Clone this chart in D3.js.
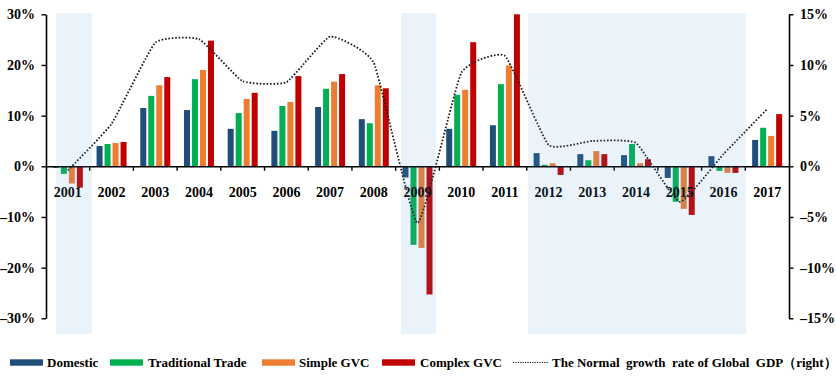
<!DOCTYPE html>
<html>
<head>
<meta charset="utf-8">
<script src="https://cdn.jsdelivr.net/npm/d3@7/dist/d3.min.js"></script>
<style>
  html, body { margin: 0; padding: 0; background: #fff; }
  svg { display: block; }
  text { font-family: "Liberation Serif", "Times New Roman", serif; font-weight: bold; fill: #000; }
</style>
</head>
<body>
<svg id="chart" width="836" height="380"></svg>
<script>
// ---- Data ----
const years = ["2001","2002","2003","2004","2005","2006","2007","2008","2009","2010","2011","2012","2013","2014","2015","2016","2017"];
const seriesNames = ["Domestic", "Traditional Trade", "Simple GVC", "Complex GVC"];
const domestic    = [-0.3, 4.0, 11.5, 11.1, 7.4, 7.0, 11.7, 9.3, -2.2, 7.4, 8.1, 2.6, 2.4, 2.2, -2.3, 2.0, 5.2];
const traditional = [-1.5, 4.4, 13.9, 17.2, 10.5, 11.9, 15.3, 8.5, -15.5, 14.1, 16.2, 0.3, 1.2, 4.4, -7.0, -0.9, 7.6];
const simpleGVC   = [-3.4, 4.6, 16.0, 19.0, 13.3, 12.7, 16.7, 16.0, -16.1, 15.1, 19.9, 0.6, 3.0, 0.6, -8.4, -1.3, 6.0];
const complexGVC  = [-4.2, 4.8, 17.6, 24.8, 14.5, 17.8, 18.2, 15.4, -25.3, 24.5, 30.0, -1.7, 2.4, 1.4, -9.6, -1.3, 10.3];
const gdpGrowth   = [-0.4, 4.2, 12.2, 12.55, 8.4, 8.3, 12.8, 10.2, -5.6, 9.2, 10.9, 2.1, 2.5, 2.3, -3.5, 1.2, 5.65];
const leftTicks   = [-30, -20, -10, 0, 10, 20, 30];
const rightTicks  = [-15, -10, -5, 0, 5, 10, 15];
const shadedPeriods = [["2001","2001"], ["2009","2009"], ["2012","2016"]];
const lineLabel = "The Normal  growth  rate of Global  GDP（right）";

const colors = ["#1F4E79", "#00B050", "#ED7D31", "#C00000"];
const seriesValues = [domestic, traditional, simpleGVC, complexGVC];

// ---- Layout ----
const svg = d3.select("#chart");
const plotLeft = 46, plotRight = 789, plotTop = 14.3, plotBottom = 318.3;

const x = d3.scaleBand().domain(years).range([plotLeft, plotRight]).padding(0);
const yL = d3.scaleLinear().domain([-30, 30]).range([plotBottom, plotTop]);
const yR = d3.scaleLinear().domain([-15, 15]).range([plotBottom, plotTop]);
const groupW = 30;
const xi = d3.scaleBand().domain(seriesNames).range([0, groupW]).paddingInner(0.25);

const fmtMinus = v => (v < 0 ? "\u2013" + Math.abs(v) : "" + v) + "%";

// Bars
const barG = svg.append("g");
seriesNames.forEach((name, si) => {
  barG.selectAll(null)
    .data(years.map((yr, i) => ({ yr, v: seriesValues[si][i] })))
    .enter().append("rect")
    .attr("x", d => x(d.yr) + (x.bandwidth() - groupW) / 2 + xi(name))
    .attr("width", xi.bandwidth())
    .attr("y", d => yL(Math.max(0, d.v)))
    .attr("height", d => Math.abs(yL(d.v) - yL(0)))
    .attr("fill", colors[si]);
});

// Zero axis line with ticks at band boundaries
const axisX = svg.append("g").attr("transform", `translate(0,${yL(0)})`)
  .call(d3.axisBottom(x).tickSize(0).tickFormat(""));
axisX.select(".domain").attr("stroke", "#000").attr("stroke-width", 1.6);
svg.append("g").selectAll("line")
  .data(years.slice(1))
  .enter().append("line")
  .attr("x1", d => x(d)).attr("x2", d => x(d))
  .attr("y1", yL(0)).attr("y2", yL(0) + 4.5)
  .attr("stroke", "#000").attr("stroke-width", 1.4);

// Year labels just below zero line
svg.append("g").selectAll("text")
  .data(years).enter().append("text")
  .attr("x", d => x(d) + x.bandwidth() / 2)
  .attr("y", 197)
  .attr("text-anchor", "middle")
  .attr("font-size", 14)
  .text(d => d);

// GDP line (right axis)
const line = d3.line()
  .x((d, i) => x(years[i]) + x.bandwidth() / 2)
  .y(d => yR(d))
  .curve(d3.curveCardinal.tension(0.6));
svg.append("path")
  .datum(gdpGrowth)
  .attr("d", line)
  .attr("fill", "none")
  .attr("stroke", "#1a1a1a")
  .attr("stroke-width", 1.8)
  .attr("stroke-dasharray", "1.6,1.8");

// Left axis
const axL = svg.append("g").attr("transform", `translate(${plotLeft},0)`)
  .call(d3.axisLeft(yL).tickValues(leftTicks).tickSize(4.5).tickSizeOuter(0).tickFormat(fmtMinus));
axL.select(".domain").attr("stroke", "#000").attr("stroke-width", 1.6);
axL.selectAll(".tick line").attr("stroke", "#000").attr("stroke-width", 1.4);
axL.selectAll(".tick text").attr("font-size", 14).attr("font-family", "Liberation Serif, serif")
  .attr("font-weight", "bold").attr("fill", "#000").attr("x", -11);

// Right axis
const axR = svg.append("g").attr("transform", `translate(${plotRight},0)`)
  .call(d3.axisRight(yR).tickValues(rightTicks).tickSize(4.5).tickSizeOuter(0).tickFormat(fmtMinus));
axR.select(".domain").attr("stroke", "#000").attr("stroke-width", 1.6);
axR.selectAll(".tick line").attr("stroke", "#000").attr("stroke-width", 1.4);
axR.selectAll(".tick text").attr("font-size", 14).attr("font-family", "Liberation Serif, serif")
  .attr("font-weight", "bold").attr("fill", "#000").attr("x", 11);

// Shaded periods drawn on top with transparency
const shadeOffsets = [[10, 2.3], [5.4, -3.3], [1.3, 0.8]];
svg.append("g").selectAll("rect")
  .data(shadedPeriods).enter().append("rect")
  .attr("x", (d, i) => x(d[0]) + shadeOffsets[i][0])
  .attr("width", (d, i) => x(d[1]) + x.bandwidth() + shadeOffsets[i][1] - x(d[0]) - shadeOffsets[i][0])
  .attr("y", 13)
  .attr("height", 321)
  .attr("fill", "#5B9BD5")
  .attr("fill-opacity", 0.13);

// Legend
const legY = 362.5;
const legItems = [
  { label: seriesNames[0], sx: 10, tx: 47, type: "rect", c: colors[0] },
  { label: seriesNames[1], sx: 110, tx: 148, type: "rect", c: colors[1] },
  { label: seriesNames[2], sx: 262, tx: 299, type: "rect", c: colors[2] },
  { label: seriesNames[3], sx: 382, tx: 420, type: "rect", c: colors[3] },
  { label: lineLabel, sx: 513, tx: 552, type: "line", c: "#1a1a1a" }
];
const leg = svg.append("g");
legItems.forEach(it => {
  if (it.type === "rect") {
    leg.append("rect").attr("x", it.sx).attr("y", legY - 3.2).attr("width", 33).attr("height", 6.4).attr("fill", it.c);
  } else {
    leg.append("line").attr("x1", it.sx).attr("x2", it.sx + 35).attr("y1", legY).attr("y2", legY)
      .attr("stroke", it.c).attr("stroke-width", 1.2).attr("stroke-dasharray", "1.2,1.2");
  }
  leg.append("text").attr("x", it.tx).attr("y", legY + 4.5).attr("font-size", 13)
    .style("white-space", "pre").attr("xml:space", "preserve").text(it.label);
});
</script>
</body>
</html>
